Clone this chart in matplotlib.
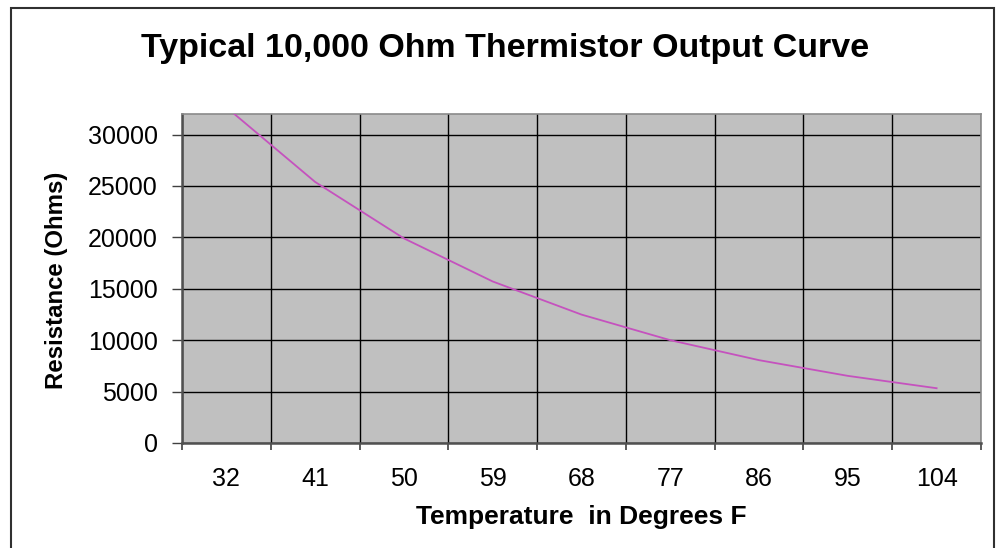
import matplotlib
matplotlib.use("Agg")
import matplotlib.pyplot as plt
from matplotlib.patches import Rectangle
from matplotlib.ticker import FixedLocator, MultipleLocator

# data
temps_f = ["32", "41", "50", "59", "68", "77", "86", "95", "104"]
resistance_ohms = [32650, 25390, 19900, 15710, 12490, 10000, 8057, 6530, 5327]

W, H = 998, 548
plt.rcParams["font.family"] = ["Liberation Sans", "DejaVu Sans"]

fig = plt.figure(figsize=(W / 100, H / 100), dpi=100, facecolor="white")
ax = fig.add_axes([182 / W, 1 - 443 / H, (981 - 182) / W, (443 - 114) / H])
ax.set_facecolor("#C0C0C0")

x = list(range(len(temps_f)))
ax.plot(x, resistance_ohms, color="#C552BE", linewidth=1.3, zorder=3)

ax.set_xlim(-0.5, len(temps_f) - 0.5)
ax.set_ylim(0, 32000)

ax.set_xticks(x)
ax.set_xticklabels(temps_f)
ax.xaxis.set_minor_locator(FixedLocator([i - 0.5 for i in range(len(temps_f) + 1)]))
ax.yaxis.set_major_locator(MultipleLocator(5000))

ax.tick_params(axis="x", which="major", length=0, pad=17, labelsize=18)
ax.tick_params(axis="x", which="minor", length=5, width=1.2, color="#404040", direction="out")
ax.tick_params(axis="y", which="major", length=7, width=1.0, color="#404040", direction="out",
               pad=10.5, labelsize=18)

ax.grid(True, axis="x", which="minor", color="black", linewidth=1.0, zorder=1)
ax.grid(True, axis="y", which="major", color="black", linewidth=1.0, zorder=1)
ax.set_axisbelow(True)

for side in ("left", "bottom"):
    ax.spines[side].set_color("#505050")
    ax.spines[side].set_linewidth(1.8)
for side in ("top", "right"):
    ax.spines[side].set_color("#8A8A8A")
    ax.spines[side].set_linewidth(1.2)

fig.text(505 / W, 1 - 48 / H, "Typical 10,000 Ohm Thermistor Output Curve",
         ha="center", va="center", fontsize=24.5, fontweight="bold")
fig.text(581 / W, 1 - 517 / H, "Temperature  in Degrees F",
         ha="center", va="center", fontsize=19, fontweight="bold")
fig.text(56 / W, 1 - 280 / H, "Resistance (Ohms)", rotation=90,
         ha="center", va="center", fontsize=17.3, fontweight="bold")

# outer chart frame
fig.patches.append(Rectangle((11 / W, -0.05), (994 - 11) / W, 1.05 - 8 / H,
                             transform=fig.transFigure, fill=False,
                             edgecolor="#303030", linewidth=1.5))

fig.savefig("out.png", dpi=100, facecolor="white")
